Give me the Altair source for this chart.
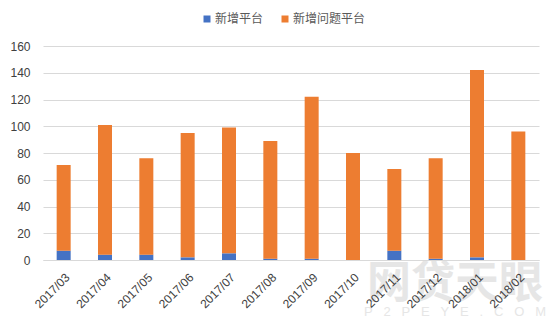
import altair as alt
import pandas as pd

months = ["2017/03", "2017/04", "2017/05", "2017/06", "2017/07", "2017/08",
          "2017/09", "2017/10", "2017/11", "2017/12", "2018/01", "2018/02"]
new_platforms = [7, 4, 4, 2, 5, 1, 1, 0, 7, 1, 2, 0]
new_problem_platforms = [64, 97, 72, 93, 94, 88, 121, 80, 61, 75, 140, 96]
series_names = ["新增平台", "新增问题平台"]
series_colors = ["#4472C4", "#ED7D31"]
y_ticks = [0, 20, 40, 60, 80, 100, 120, 140, 160]

rows = []
for m, a, b in zip(months, new_platforms, new_problem_platforms):
    rows.append({"month": m, "series": series_names[0], "value": a, "ord": 0})
    rows.append({"month": m, "series": series_names[1], "value": b, "ord": 1})
df = pd.DataFrame(rows)

FONT = "Liberation Sans"
CJK = "Noto Sans CJK SC"
NB = "\u00A0" * 3
wm_text = NB.join(list("P2PEYE.COM"))

bars = alt.Chart(df).mark_bar(size=14).encode(
    x=alt.X("month:N", sort=months, title=None,
            scale=alt.Scale(paddingInner=0, paddingOuter=0),
            axis=alt.Axis(labelAngle=-45, labelAlign="right", labelBaseline="middle",
                          labelPadding=15, labelOffset=4, ticks=False,
                          domainColor="#D9D9D9", labelColor="#404040",
                          labelFont=FONT, labelFontSize=12, zindex=1)),
    y=alt.Y("value:Q", stack="zero", title=None,
            scale=alt.Scale(domain=[0, 160], nice=False),
            axis=alt.Axis(values=y_ticks, domain=False, ticks=False,
                          gridColor="#D9D9D9", labelColor="#404040",
                          labelFont=FONT, labelFontSize=12, labelPadding=13)),
    color=alt.Color("series:N", sort=series_names,
                    scale=alt.Scale(domain=series_names, range=series_colors),
                    legend=alt.Legend(title=None, orient="none", direction="horizontal",
                                      legendX=158, legendY=-33, symbolType="square",
                                      symbolSize=49, labelOffset=2, columnPadding=15,
                                      labelFont=CJK, labelFontSize=12,
                                      labelColor="#595959", padding=0,
                                      symbolStrokeWidth=0)),
    order=alt.Order("ord:Q", sort="ascending"),
)

wm1 = alt.Chart(pd.DataFrame({"t": ["网贷天眼"]})).mark_text(
    font=CJK, fontSize=44, fontWeight="bold", color="#E6E6E6",
    align="center", baseline="middle"
).encode(text="t:N", x=alt.value(412), y=alt.value(239))

wm2 = alt.Chart(pd.DataFrame({"t": [wm_text]})).mark_text(
    font=FONT, fontSize=13, color="#E6E6E6", align="center", baseline="middle"
).encode(text="t:N", x=alt.value(412), y=alt.value(266))

chart = alt.layer(wm1, wm2, bars).properties(
    width=496, height=214,
    autosize=alt.AutoSizeParams(type="none"),
    padding={"left": 43, "top": 46, "right": 15, "bottom": 63},
).configure_view(stroke=None)

chart.save("out.html", embed_options={"renderer": "svg", "actions": False})
